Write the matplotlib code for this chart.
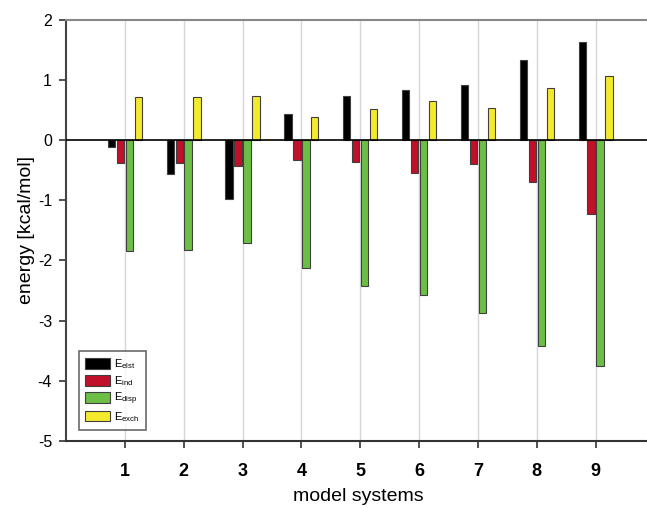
import matplotlib
matplotlib.use("Agg")
import matplotlib.pyplot as plt
import numpy as np

plt.rcParams['font.family'] = ['Liberation Sans', 'DejaVu Sans']

systems = [1, 2, 3, 4, 5, 6, 7, 8, 9]
E_elst = [-0.12, -0.56, -0.98, 0.44, 0.73, 0.83, 0.91, 1.34, 1.63]
E_ind = [-0.38, -0.38, -0.43, -0.33, -0.36, -0.54, -0.39, -0.69, -1.23]
E_disp = [-1.85, -1.82, -1.71, -2.13, -2.42, -2.58, -2.87, -3.42, -3.76]
E_exch = [0.72, 0.72, 0.74, 0.39, 0.52, 0.65, 0.54, 0.86, 1.07]

series = [E_elst, E_ind, E_disp, E_exch]
labels = [r'E$_{\mathregular{elst}}$', r'E$_{\mathregular{ind}}$',
          r'E$_{\mathregular{disp}}$', r'E$_{\mathregular{exch}}$']
colors = ['#000000', '#c0102a', '#6cbf44', '#f4ea2c']

fig = plt.figure(figsize=(6.47, 5.08), dpi=100)
ax = fig.add_axes([0.102, 0.132, 0.905, 0.829])

x = np.array(systems, dtype=float)
step = 0.152
width = 0.125
for k, (vals, lab, col) in enumerate(zip(series, labels, colors)):
    ax.bar(x + (k - 1.5) * step, vals, width=width, color=col,
           edgecolor='#404040', linewidth=0.8, label=lab, zorder=3)

ax.axhline(0, color='black', linewidth=1.2, zorder=4)
for xi in systems:
    ax.axvline(xi, color='#d4d6dc', linewidth=1.0, zorder=1)

ax.set_xlim(0, 9.95)
ax.set_ylim(-5, 2)
ax.set_xticks(systems)
ax.set_xticklabels([str(s) for s in systems], fontsize=13, fontweight='bold')
ax.set_yticks([2, 1, 0, -1, -2, -3, -4, -5])
ax.set_yticklabels(['2', '1', '0', '-1', '-2', '-3', '-4', '-5'], fontsize=11.5)
ax.tick_params(axis='both', direction='out', length=5, width=1.2, color='#333333')
ax.tick_params(axis='x', pad=11)
ax.tick_params(axis='y', pad=5)

ax.spines['right'].set_visible(False)
ax.spines['top'].set_color('#888888')
ax.spines['top'].set_linewidth(1.5)
ax.spines['left'].set_color('#444444')
ax.spines['left'].set_linewidth(1.5)
ax.spines['bottom'].set_color('#333333')
ax.spines['bottom'].set_linewidth(1.5)

ax.set_xlabel('model systems', fontsize=14, labelpad=6)
ax.set_ylabel('energy [kcal/mol]', fontsize=14, labelpad=2)

leg = ax.legend(loc='lower left', bbox_to_anchor=(0.012, 0.012), fontsize=8,
                frameon=True, fancybox=False, edgecolor='#444444',
                handlelength=2.2, handleheight=1.1, handletextpad=0.4,
                labelspacing=0.25, borderpad=0.6)
leg.get_frame().set_linewidth(1.2)
leg.set_zorder(5)

fig.savefig('out.png', dpi=100)
